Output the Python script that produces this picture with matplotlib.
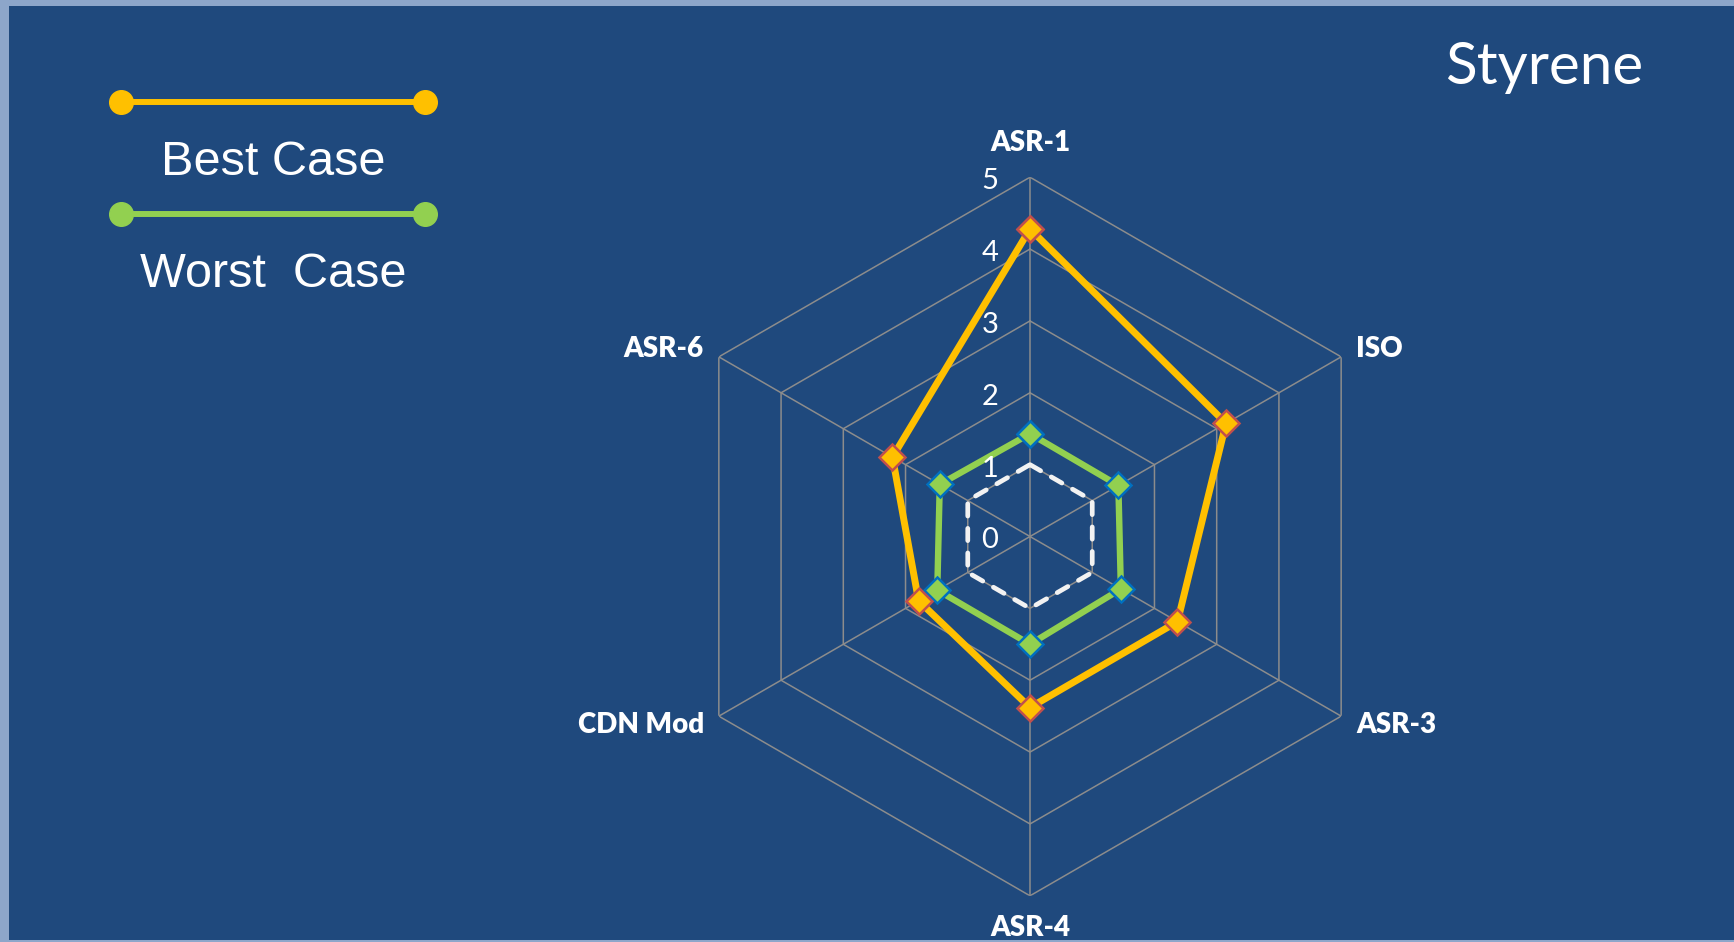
import numpy as np
import matplotlib
matplotlib.use("Agg")
import matplotlib.pyplot as plt
from matplotlib.patches import Rectangle
from matplotlib.lines import Line2D

# chart data
categories = ["ASR-1", "ISO", "ASR-3", "ASR-4", "CDN Mod", "ASR-6"]
best_case = [4.28, 3.15, 2.37, 2.38, 1.79, 2.21]
worst_case = [1.43, 1.42, 1.46, 1.50, 1.49, 1.45]
baseline = [1, 1, 1, 1, 1, 1]
levels = [0, 1, 2, 3, 4, 5]
title = "Styrene"

W, H = 1734, 942
fig = plt.figure(figsize=(W / 100, H / 100), dpi=100)
fig.patch.set_facecolor("#8DA6CA")
fig.add_artist(Rectangle((9 / W, 2 / H), 1 - 9 / W, 934 / H, transform=fig.transFigure,
                         facecolor="#1F497D", edgecolor="none", zorder=0))

# polar axes centred on the hexagon
cx, cy, R = 1030, 536.5, 359.3
ax = fig.add_axes([(cx - R) / W, (H - cy - R) / H, 2 * R / W, 2 * R / H], polar=True)
ax.set_theta_offset(np.pi / 2)
ax.set_theta_direction(-1)
ax.set_ylim(0, 5)
ax.axis("off")

n = len(categories)
angles = np.linspace(0, 2 * np.pi, n, endpoint=False)
closed = np.append(angles, angles[0])

def close(vals):
    return list(vals) + [vals[0]]

grid_col = "#8C8C8C"
for lv in levels[1:]:
    ax.plot(closed, [lv] * (n + 1), color=grid_col, lw=1.1, zorder=1)
for a in angles:
    ax.plot([a, a], [0, 5], color=grid_col, lw=1.1, zorder=1)

ax.plot(closed, close(baseline), color="#F2F2F2", lw=3.4, linestyle=(0, (2.6, 2.6)),
        dash_capstyle="round", zorder=2)
ax.plot(closed, close(worst_case), color="#92D050", lw=4.6, marker="D", ms=13.5,
        mfc="#92D050", mec="#0070C0", mew=1.8, zorder=3)
ax.plot(closed, close(best_case), color="#FFC000", lw=5, marker="D", ms=13.5,
        mfc="#FFC000", mec="#C0504D", mew=1.8, zorder=4)

# radial tick labels
for lv in levels:
    ax.annotate(str(lv), xy=(0, lv), xytext=(-40, -12), textcoords="offset pixels",
                ha="center", va="baseline", color="white", fontsize=21,
                family="Lato", zorder=5)

# category labels
label_pos = [(0, 26, "center"), (15, 0, "left"), (15, -17, "left"),
             (0, -40, "center"), (-15, -17, "right"), (-15, 0, "right")]
for a, cat, (dx, dy, ha) in zip(angles, categories, label_pos):
    ax.annotate(cat, xy=(a, 5), xytext=(dx, dy), textcoords="offset pixels",
                ha=ha, va="baseline", color="white", fontsize=20,
                family="Lato", fontweight="heavy", annotation_clip=False)

# legend drawn by hand, top left
for y, col, txt, ty in [(102, "#FFC000", "Best Case", 175), (214, "#92D050", "Worst  Case", 287)]:
    fig.add_artist(Line2D([121 / W, 425 / W], [1 - y / H, 1 - y / H], transform=fig.transFigure,
                          color=col, lw=4.3, marker="o", ms=17, mec=col, mfc=col))
    fig.text(273 / W, 1 - ty / H, txt, ha="center", va="baseline", color="white",
             fontsize=35, family="Liberation Sans")

fig.text(1544 / W, 1 - 84 / H, title, ha="center", va="baseline", color="white",
         fontsize=42, family="Lato")

# light bottom edge
fig.add_artist(Rectangle((0, 0), 1, 2 / H, transform=fig.transFigure,
                         facecolor="#8DA6CA", edgecolor="none", zorder=10))

fig.savefig("out.png", dpi=100, facecolor=fig.get_facecolor())
